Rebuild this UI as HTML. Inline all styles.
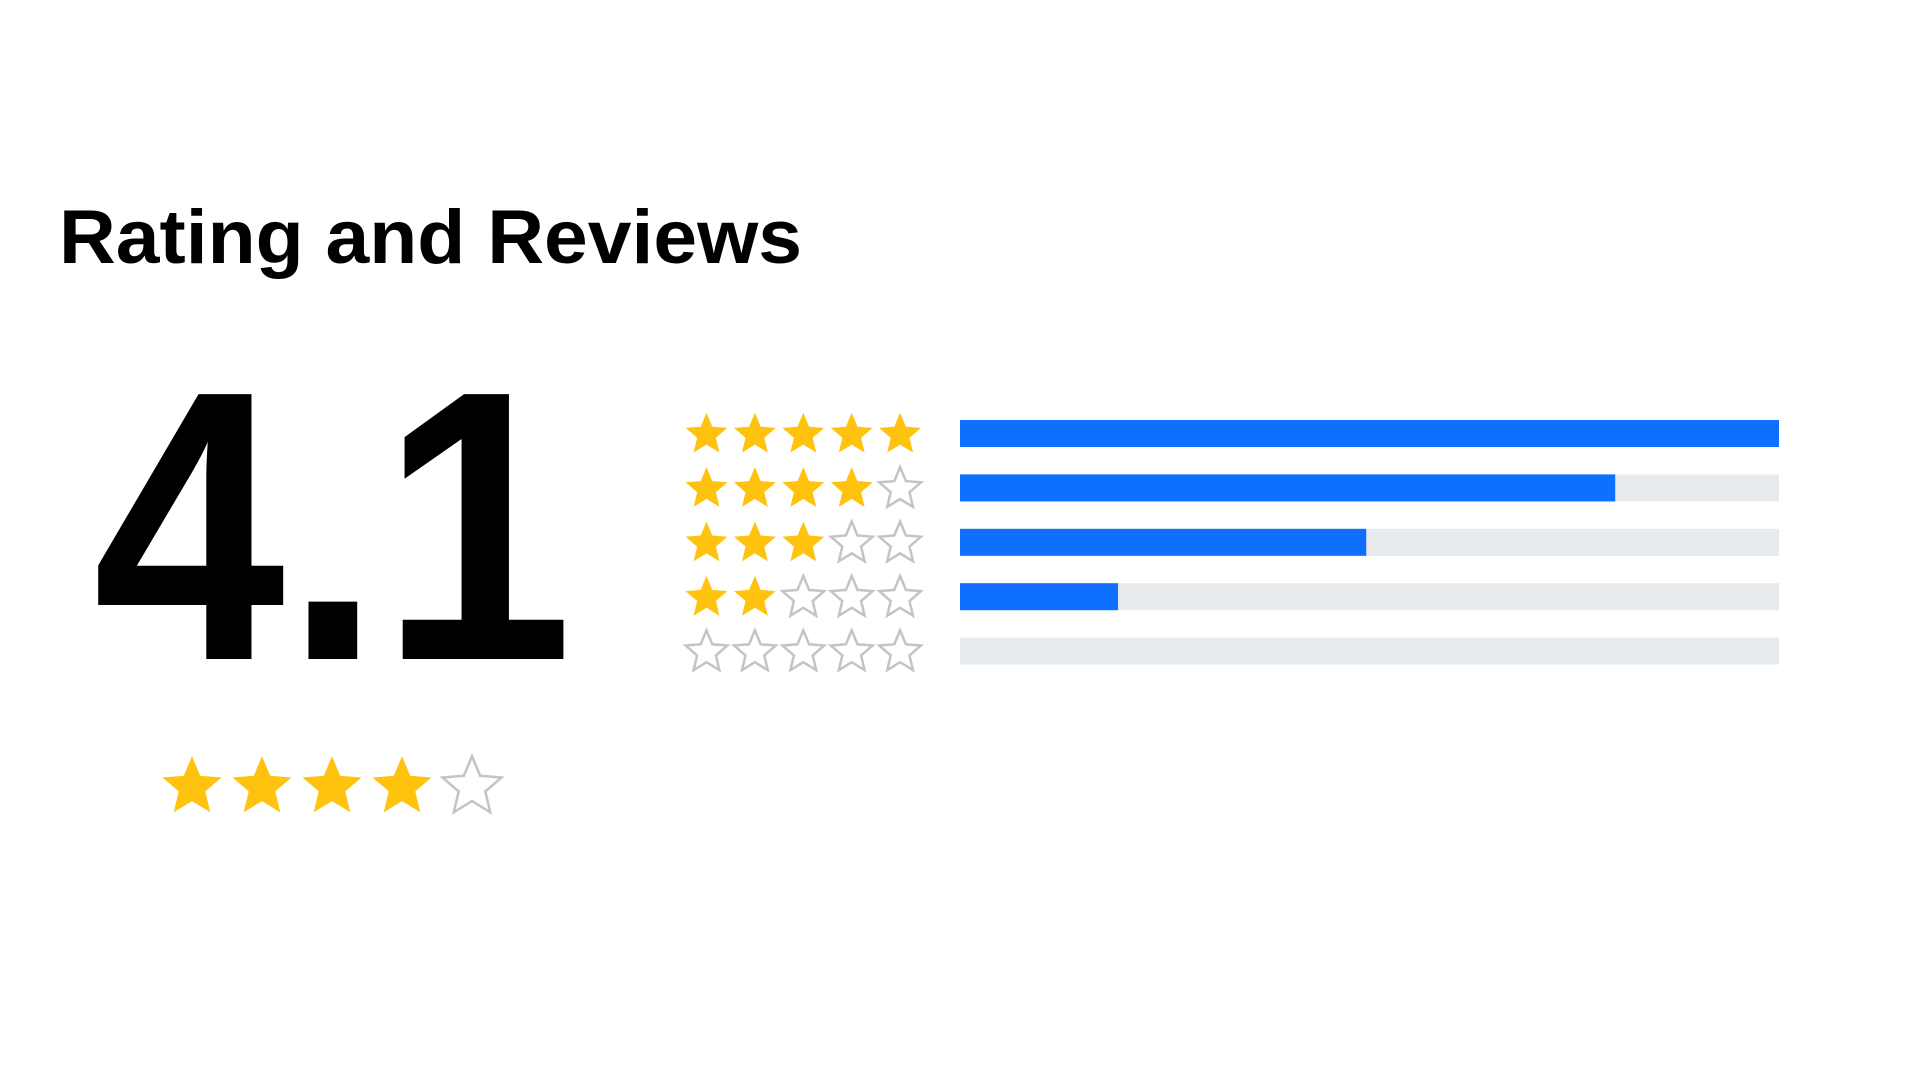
<!DOCTYPE html>
<html><head><meta charset="utf-8"><style>
html,body{margin:0;padding:0;background:#fff;width:1920px;height:1080px;overflow:hidden}
svg{display:block}
</style></head><body>
<svg id="chart" width="1920" height="1080" xmlns="http://www.w3.org/2000/svg">
<text x="59" y="263" font-family="Liberation Sans, sans-serif" font-weight="bold" font-size="76" textLength="743" lengthAdjust="spacingAndGlyphs" fill="#000">Rating and Reviews</text>
<text id="score" x="93" y="659" font-family="Liberation Sans, sans-serif" font-weight="bold" font-size="385" textLength="480" lengthAdjust="spacingAndGlyphs" fill="#000">4.1</text>
<g id="marks"></g>
</svg>
<script>
const starLevels = [5, 4, 3, 2, 1];
const shares = [1.0, 0.80, 0.496, 0.193, 0.0];
const averageRating = 4.1;

const NS = 'http://www.w3.org/2000/svg';
const g = document.getElementById('marks');
const barX0 = 960, barW = 819, barH = 27;
const rowY = i => 433.5 + i * 54.4;
const xScale = v => v * barW;

function starPath(cx, cy, r) {
  let p = '';
  for (let k = 0; k < 10; k++) {
    const rr = k % 2 === 0 ? r : r * 0.45;
    const a = -Math.PI / 2 + k * Math.PI / 5;
    p += (k ? 'L' : 'M') + (cx + rr * Math.cos(a)).toFixed(1) + ',' + (cy + rr * Math.sin(a)).toFixed(1);
  }
  return p + 'Z';
}
function star(cx, cy, r, filled) {
  const s = document.createElementNS(NS, 'path');
  s.setAttribute('d', starPath(cx, cy + r * 0.1, r));
  if (filled) { s.setAttribute('fill', '#ffc20e'); }
  else { s.setAttribute('fill', 'none'); s.setAttribute('stroke', '#c4c4c4'); s.setAttribute('stroke-width', '2.5'); }
  
  
  g.appendChild(s);
}

shares.forEach((v, i) => {
  const y = rowY(i);
  const track = document.createElementNS(NS, 'rect');
  track.setAttribute('x', barX0); track.setAttribute('y', y - barH / 2);
  track.setAttribute('width', barW); track.setAttribute('height', barH);
  track.setAttribute('fill', '#e8ebee');
  
  
  g.appendChild(track);
  const bar = document.createElementNS(NS, 'rect');
  bar.setAttribute('x', barX0); bar.setAttribute('y', y - barH / 2);
  bar.setAttribute('width', xScale(v)); bar.setAttribute('height', barH);
  bar.setAttribute('fill', '#0f6fff');
  
  
  g.appendChild(bar);
  for (let k = 0; k < 5; k++) {
    const filledCount = i === 4 ? 0 : starLevels[i];
    star(706.5 + k * 48.4, y - 1, 22, k < filledCount);
  }
});

const full = Math.floor(averageRating);
for (let k = 0; k < 5; k++) {
  star(192 + k * 70, 784, 31, k < full);
}
</script>
</body></html>
